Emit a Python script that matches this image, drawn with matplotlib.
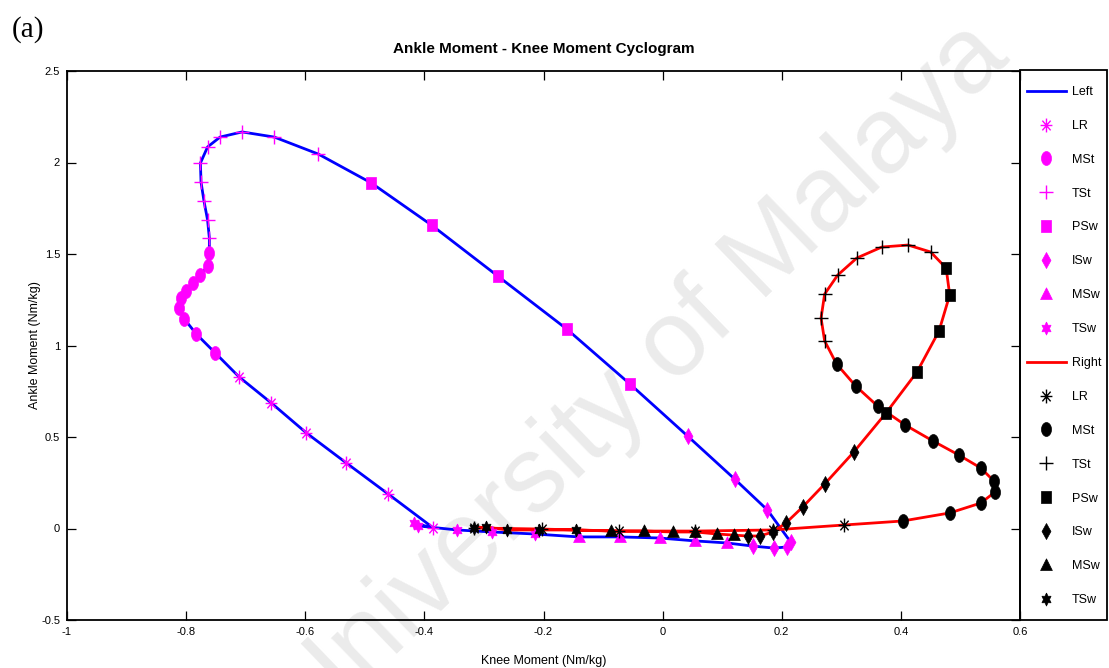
import numpy as np
import matplotlib
matplotlib.use('Agg')
import matplotlib.pyplot as plt
from matplotlib.path import Path
from matplotlib.patches import Rectangle

# knee moment (x) vs ankle moment (y), Nm/kg, sampled per gait phase
phases = ['LR', 'MSt', 'TSt', 'PSw', 'ISw', 'MSw', 'TSw']

left_x = {
    'LR':  [-0.385, -0.461, -0.531, -0.598, -0.657, -0.711],
    'MSt': [-0.751, -0.783, -0.803, -0.812, -0.808, -0.800, -0.788, -0.776, -0.764, -0.761],
    'TSt': [-0.761, -0.764, -0.770, -0.775, -0.776, -0.764, -0.743, -0.706, -0.652, -0.578],
    'PSw': [-0.489, -0.388, -0.277, -0.161, -0.055],
    'ISw': [0.042, 0.121, 0.176, 0.215, 0.208, 0.187, 0.151],
    'MSw': [0.108, 0.055, -0.005, -0.071, -0.141],
    'TSw': [-0.215, -0.286, -0.345, -0.410, -0.418],
}
left_y = {
    'LR':  [0.003, 0.189, 0.358, 0.522, 0.686, 0.828],
    'MSt': [0.959, 1.063, 1.145, 1.205, 1.259, 1.298, 1.342, 1.385, 1.434, 1.505],
    'TSt': [1.587, 1.686, 1.789, 1.893, 1.997, 2.085, 2.139, 2.167, 2.139, 2.046],
    'PSw': [1.888, 1.658, 1.380, 1.090, 0.790],
    'ISw': [0.505, 0.270, 0.101, -0.074, -0.101, -0.107, -0.096],
    'MSw': [-0.079, -0.068, -0.052, -0.046, -0.046],
    'TSw': [-0.030, -0.019, -0.008, 0.014, 0.030],
}

right_x = {
    'LR':  [-0.316, -0.203, -0.074, 0.055, 0.185, 0.304],
    'MSt': [0.403, 0.482, 0.534, 0.558, 0.556, 0.534, 0.497, 0.454, 0.407, 0.361, 0.324, 0.292],
    'TSt': [0.272, 0.266, 0.272, 0.294, 0.326, 0.368, 0.412, 0.450],
    'PSw': [0.476, 0.482, 0.464, 0.427, 0.375],
    'ISw': [0.321, 0.272, 0.235, 0.207, 0.185, 0.163, 0.143],
    'MSw': [0.119, 0.091, 0.055, 0.017, -0.032, -0.086],
    'TSw': [-0.146, -0.208, -0.261, -0.297, -0.316],
}
right_y = {
    'LR':  [0.003, -0.003, -0.014, -0.014, -0.008, 0.019],
    'MSt': [0.041, 0.085, 0.139, 0.199, 0.260, 0.331, 0.402, 0.478, 0.566, 0.669, 0.779, 0.899],
    'TSt': [1.025, 1.150, 1.281, 1.385, 1.478, 1.538, 1.549, 1.511],
    'PSw': [1.423, 1.276, 1.079, 0.855, 0.631],
    'ISw': [0.418, 0.243, 0.117, 0.030, -0.019, -0.041, -0.041],
    'MSw': [-0.036, -0.030, -0.019, -0.019, -0.014, -0.014],
    'TSw': [-0.008, -0.008, -0.008, 0.008, 0.003],
}

x_ticks = [-1, -0.8, -0.6, -0.4, -0.2, 0, 0.2, 0.4, 0.6]
x_ticklabels = ['-1', '-0.8', '-0.6', '-0.4', '-0.2', '0', '0.2', '0.4', '0.6']
y_ticks = [-0.5, 0, 0.5, 1, 1.5, 2, 2.5]
y_ticklabels = ['-0.5', '0', '0.5', '1', '1.5', '2', '2.5']

plt.rcParams['font.family'] = ['Liberation Sans', 'DejaVu Sans']


def squeeze(verts, codes=None, sx=1.0):
    v = np.asarray(verts, float) * [sx, 1.0]
    return Path(v, codes)


def ellipse_marker():
    t = np.linspace(0, 2 * np.pi, 41)
    return squeeze(np.c_[np.cos(t), np.sin(t)], sx=0.72)


def hexagram_marker():
    a = np.pi / 2 + np.arange(13) * np.pi / 6
    r = np.where(np.arange(13) % 2 == 0, 1.0, 1 / np.sqrt(3))
    return squeeze(np.c_[r * np.cos(a), r * np.sin(a)], sx=0.8)


def asterisk_marker():
    v = [[0, -1], [0, 1], [-1, 0], [1, 0],
         [-0.7, -0.7], [0.7, 0.7], [-0.7, 0.7], [0.7, -0.7]]
    return squeeze(v, [Path.MOVETO, Path.LINETO] * 4, sx=0.85)


def plus_marker():
    v = [[0, -1], [0, 1], [-1, 0], [1, 0]]
    return squeeze(v, [Path.MOVETO, Path.LINETO] * 2, sx=0.95)


# marker path, size (pt), filled?
marker_spec = {
    'LR':  (asterisk_marker(), 10, False),
    'MSt': (ellipse_marker(), 10, True),
    'TSt': (plus_marker(), 10, False),
    'PSw': (squeeze([[-1, -1], [1, -1], [1, 1], [-1, 1], [-1, -1]], sx=0.78), 8.6, True),
    'ISw': (squeeze([[0, -1], [1, 0], [0, 1], [-1, 0], [0, -1]], sx=0.56), 11.5, True),
    'MSw': (squeeze([[-1, -0.75], [1, -0.75], [0, 1], [-1, -0.75]], sx=0.88), 9.6, True),
    'TSw': (hexagram_marker(), 9.4, True),
}


def full_cycle(xs, ys):
    cx = np.concatenate([xs[p] for p in phases] + [xs['LR'][:1]])
    cy = np.concatenate([ys[p] for p in phases] + [ys['LR'][:1]])
    return cx, cy


W, H = 1109, 668
fig = plt.figure(figsize=(W / 100, H / 100), dpi=100)
ax = fig.add_axes([67 / W, 1 - 620 / H, 953 / W, 549 / H])

handles = []
labels = []
for side, xs, ys, lc, mc in [('Left', left_x, left_y, '#0000ff', '#ff00ff'),
                              ('Right', right_x, right_y, '#ff0000', '#000000')]:
    cx, cy = full_cycle(xs, ys)
    ln, = ax.plot(cx, cy, color=lc, lw=2.0, zorder=2)
    handles.append(ln)
    labels.append(side)
    for p in phases:
        path, ms, filled = marker_spec[p]
        mk, = ax.plot(xs[p], ys[p], ls='none', marker=path, markersize=ms,
                      markerfacecolor=mc if filled else 'none',
                      markeredgecolor=mc, markeredgewidth=1.0 if not filled else 0.5,
                      zorder=3)
        handles.append(mk)
        labels.append(p)

ax.set_xlim(-1, 0.6)
ax.set_ylim(-0.5, 2.5)
ax.set_xticks(x_ticks)
ax.set_xticklabels(x_ticklabels)
ax.set_yticks(y_ticks)
ax.set_yticklabels(y_ticklabels)
ax.tick_params(direction='in', length=6.5, width=0.9, top=True, right=True,
               labelsize=8, pad=5)
for s in ax.spines.values():
    s.set_linewidth(1.3)

ax.set_title('Ankle Moment - Knee Moment Cyclogram', fontsize=11,
             fontweight='bold', pad=13)
ax.set_xlabel('Knee Moment (Nm/kg)', fontsize=9, labelpad=13)
ax.set_ylabel('Ankle Moment (Nm/kg)', fontsize=9, labelpad=0)

# legend box sits against the right spine, full axes height
fig.add_artist(Rectangle((1020 / W, 1 - 620 / H), 87 / W, 550 / H,
                         transform=fig.transFigure, fill=False,
                         edgecolor='#000000', lw=1.3))
leg = fig.legend(handles, labels, loc='upper left',
                 bbox_to_anchor=(1027 / W, 1 - 86 / H),
                 bbox_transform=fig.transFigure, borderaxespad=0,
                 borderpad=0, fontsize=9, labelspacing=1.75,
                 handlelength=3.1, handletextpad=0.5, frameon=False)

fig.text(12 / W, 1 - 30 / H, '(a)', va='center', ha='left', fontsize=21,
         family=['Liberation Serif', 'DejaVu Serif'])

# repository watermark
ax.text(0.578, 0.432, 'University of Malaya', transform=fig.transFigure,
        rotation=44, ha='center', va='center', fontsize=78,
        family=['Liberation Sans', 'DejaVu Sans'], color='#ebebeb',
        zorder=1, clip_on=False)

fig.savefig('out.png', dpi=100)
